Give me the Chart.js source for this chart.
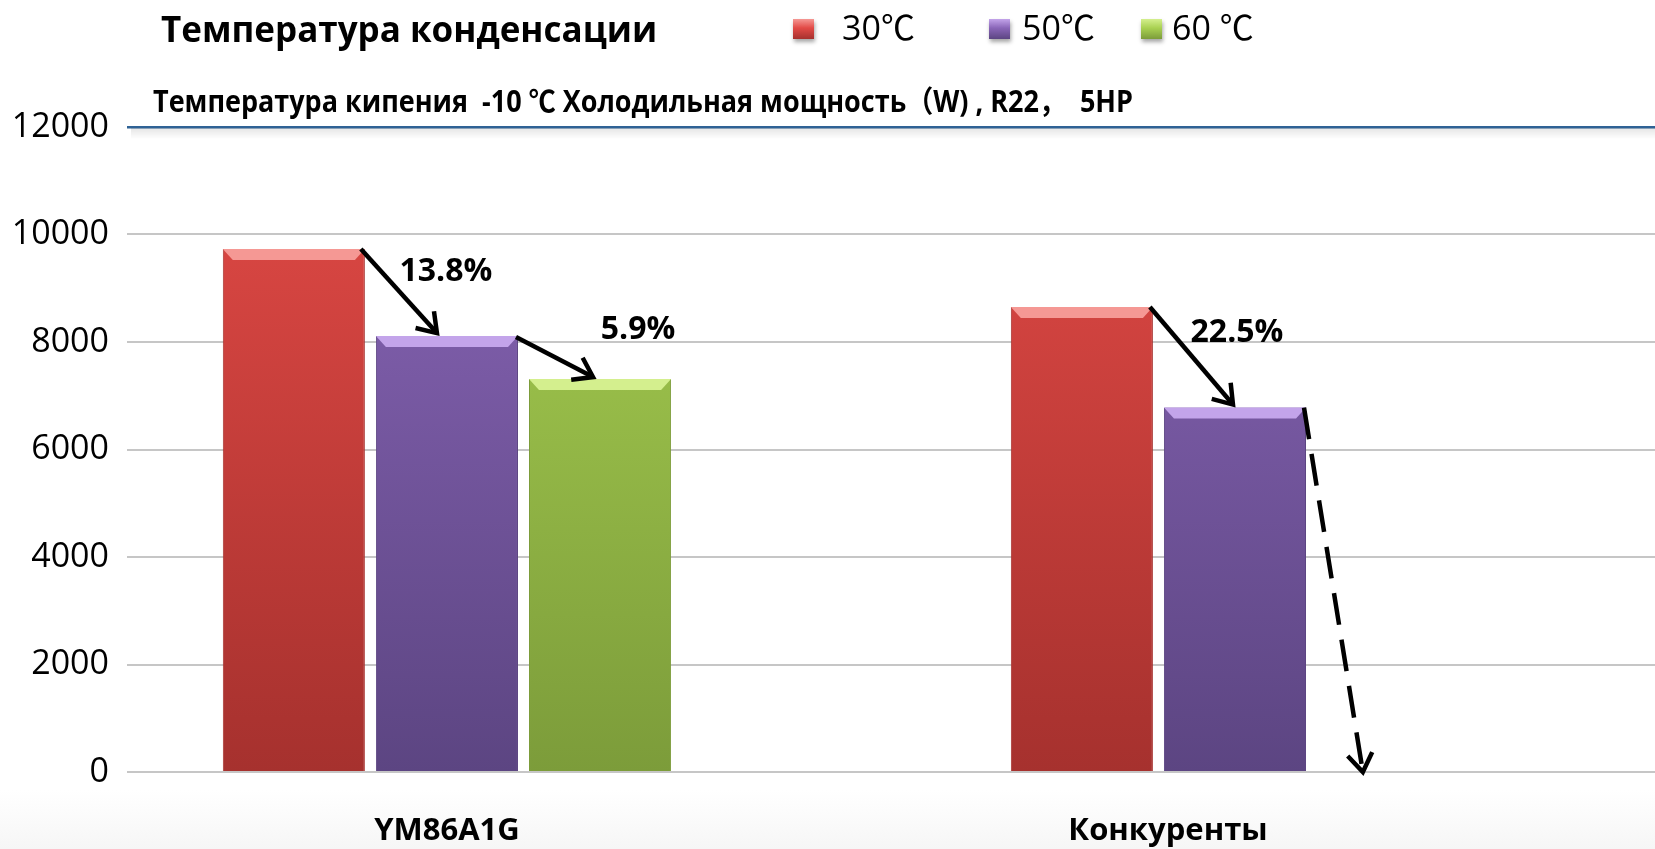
<!DOCTYPE html>
<html lang="ru">
<head>
<meta charset="utf-8">
<script src="https://cdn.jsdelivr.net/npm/chart.js@4.4.1/dist/chart.umd.min.js"></script>
<style>
    html, body { margin: 0; padding: 0; background: #fff; }
    #wrap {
        position: relative; width: 1655px; height: 849px; overflow: hidden;
        background: linear-gradient(#fff 0, #fff 790px, #f6f6f6 849px);
        font-family: 'Open Sans', 'Noto Sans CJK SC', sans-serif; color: #000;
    }
    #chart { position: absolute; left: 0; top: 0; }
    .title { position: absolute; left: 161px; top: 9px; font-size: 35px; font-weight: 700; line-height: 40px; white-space: nowrap; }
    .subtitle {
        position: absolute; left: 153px; top: 83px; font-size: 30px; font-weight: 700; line-height: 36px;
        white-space: pre; transform: scaleX(0.9); transform-origin: 0 50%;
    }
    .sw { position: absolute; top: 19px; width: 21px; height: 20px; box-shadow: 1px 3px 4px rgba(0,0,0,0.35); }
    .lt { position: absolute; top: 7px; font-size: 34px; line-height: 40px; white-space: pre; }
</style>
</head>
<body>
<div id="wrap">
    <canvas id="chart" width="1655" height="849"></canvas>
    <div class="title">Температура конденсации</div>
    <div class="subtitle">Температура кипения  -10 ℃ Холодильная мощность（W) , R22，  5HP</div>
    <div id="legend"></div>
</div>
<script>
// данные графика
const categories = ['YM86A1G', 'Конкуренты'];
const seriesNames = ['30℃', '50℃', '60 ℃'];
const values30 = [9730, 8650];
const values50 = [8110, 6780];
const values60 = [7310, null];
const yTicks = [0, 2000, 4000, 6000, 8000, 10000, 12000];
const pctLabels = ['13.8%', '5.9%', '22.5%'];

// цвета серий: верх, низ, блик
const palette = [
    ['#e24a46', '#a6312e', '#f59894'],
    ['#8a66b8', '#5c4582', '#c3a4ea'],
    ['#a9d152', '#7c9c3a', '#d4ef8e']
];

// легенда
const legendPos = [[793, 842], [989, 1022], [1141, 1172]];
const legend = document.getElementById('legend');
seriesNames.forEach((name, i) => {
    const sw = document.createElement('div');
    sw.className = 'sw';
    sw.style.left = legendPos[i][0] + 'px';
    sw.style.background = `linear-gradient(${palette[i][2]}, ${palette[i][0]} 45%, ${palette[i][1]})`;
    legend.appendChild(sw);
    const t = document.createElement('div');
    t.className = 'lt';
    t.style.left = legendPos[i][1] + 'px';
    t.textContent = name;
    legend.appendChild(t);
});

function barFill(i) {
    return ctx => {
        const area = ctx.chart.chartArea;
        if (!area) return palette[i][0];
        const g = ctx.chart.ctx.createLinearGradient(0, area.top, 0, area.bottom);
        g.addColorStop(0, palette[i][0]);
        g.addColorStop(1, palette[i][1]);
        return g;
    };
}

function arrow(c, x1, y1, x2, y2, dashed) {
    c.save();
    if (dashed) c.setLineDash([32, 15]);
    c.beginPath();
    c.moveTo(x1, y1);
    c.lineTo(x2, y2);
    c.stroke();
    c.restore();
    const a = Math.atan2(y2 - y1, x2 - x1);
    const len = 22;
    c.beginPath();
    c.moveTo(x2 - len * Math.cos(a - 0.6), y2 - len * Math.sin(a - 0.6));
    c.lineTo(x2, y2);
    c.lineTo(x2 - len * Math.cos(a + 0.6), y2 - len * Math.sin(a + 0.6));
    c.stroke();
}

// тень под верхней линией, блики на барах, стрелки и проценты
const decorPlugin = {
    id: 'decor',
    beforeDatasetsDraw(chart) {
        const { ctx: c, chartArea: a } = chart;
        const g = c.createLinearGradient(0, a.top + 1, 0, a.top + 12);
        g.addColorStop(0, 'rgba(0,0,0,0.10)');
        g.addColorStop(1, 'rgba(0,0,0,0)');
        c.save();
        c.fillStyle = g;
        c.fillRect(a.left + 4, a.top + 1, a.right - a.left, 11);
        c.restore();
    },
    afterDatasetsDraw(chart) {
        const c = chart.ctx;
        c.save();
        chart.data.datasets.forEach((ds, d) => {
            chart.getDatasetMeta(d).data.forEach((el, i) => {
                if (ds.data[i].y == null) return;
                const { x, y, width } = el.getProps(['x', 'y', 'width'], true);
                const l = x - width / 2, r = x + width / 2;
                c.fillStyle = palette[d][2];
                c.beginPath();
                c.moveTo(l, y); c.lineTo(r, y); c.lineTo(r - 10, y + 11); c.lineTo(l + 10, y + 11);
                c.closePath();
                c.fill();
            });
        });

        const bar = (d, i) => chart.getDatasetMeta(d).data[i].getProps(['x', 'y', 'width'], true);
        const r1 = bar(0, 0), p1 = bar(1, 0), g1 = bar(2, 0), r2 = bar(0, 1), p2 = bar(1, 1);
        const zero = chart.scales.y.getPixelForValue(0);

        c.strokeStyle = '#000';
        c.lineWidth = 4.5;
        arrow(c, r1.x + r1.width / 2 - 4, r1.y, p1.x - 10, p1.y - 3, false);
        arrow(c, p1.x + p1.width / 2 - 2, p1.y + 1, g1.x - 7, g1.y - 2, false);
        arrow(c, r2.x + r2.width / 2 - 3, r2.y, p2.x - 2, p2.y - 3, false);
        arrow(c, p2.x + p2.width / 2 - 2, p2.y, p2.x + p2.width * 0.9, zero, true);

        c.fillStyle = '#000';
        c.font = "bold 32px 'Open Sans'";
        c.textAlign = 'center';
        c.textBaseline = 'middle';
        c.fillText(pctLabels[0], p1.x - 1, r1.y + 23);
        c.fillText(pctLabels[1], g1.x + 38, g1.y - 49);
        c.fillText(pctLabels[2], p2.x + 2, r2.y + 26);
        c.restore();
    }
};

const toPoints = arr => arr.map((v, i) => ({ x: i, y: v }));

const chartCtx = document.getElementById('chart').getContext('2d');
const chart = new Chart(chartCtx, {
    type: 'bar',
    data: {
        datasets: [values30, values50, values60].map((vals, i) => ({
            label: seriesNames[i],
            data: toPoints(vals),
            backgroundColor: barFill(i),
            borderColor: palette[i][1],
            borderWidth: 1,
            categoryPercentage: 0.637,
            barPercentage: 0.928
        }))
    },
    options: {
        responsive: false,
        animation: false,
        layout: { padding: { top: 127, left: 0, right: 0, bottom: 0 } },
        plugins: { legend: { display: false }, tooltip: { enabled: false } },
        scales: {
            x: {
                type: 'linear',
                offset: false,
                min: -0.406,
                max: 1.533,
                grid: { display: false, drawTicks: false, offset: false },
                border: { display: false },
                afterBuildTicks: s => { s.ticks = [{ value: 0 }, { value: 0.915 }]; },
                afterFit: s => { s.height = 77; },
                ticks: {
                    callback: (v, i) => categories[i],
                    font: { family: 'Open Sans', size: 31, weight: 'bold' },
                    color: '#000',
                    padding: 41,
                    maxRotation: 0,
                    autoSkip: false
                }
            },
            y: {
                min: 0,
                max: 12000,
                afterBuildTicks: s => { s.ticks = yTicks.map(v => ({ value: v })); },
                afterFit: s => { s.width = 127; },
                border: { display: false },
                grid: {
                    drawTicks: false,
                    color: c => c.tick.value === 12000 ? '#2f6295' : '#c6c6c6',
                    lineWidth: c => c.tick.value === 12000 ? 2.5 : 2
                },
                ticks: {
                    callback: v => String(v),
                    font: { family: 'Open Sans', size: 34 },
                    color: '#000',
                    padding: 18
                }
            }
        }
    },
    plugins: [decorPlugin]
});
</script>
</body>
</html>
